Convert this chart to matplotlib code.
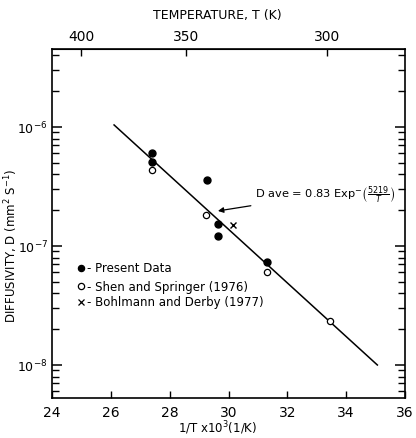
import numpy as np
import matplotlib
matplotlib.use("Agg")
import matplotlib.pyplot as plt
from matplotlib.ticker import NullFormatter, FixedLocator

# x values are 1/T x 10^4 (axis labelled 24..36), y is diffusivity in mm^2/s
present_x = [27.39, 27.39, 29.26, 29.65, 29.65, 31.30]
present_y = [6.1e-7, 5.05e-7, 3.6e-7, 1.53e-7, 1.22e-7, 7.3e-8]

shen_x = [27.39, 29.23, 31.30, 33.45]
shen_y = [4.35e-7, 1.83e-7, 6.1e-8, 2.34e-8]

bohl_x = [30.16]
bohl_y = [1.5e-7]

fit_x = [26.11, 35.06]
fit_y = [1.04e-6, 1.0e-8]

xticks = [24, 26, 28, 30, 32, 34, 36]
yticks = [1e-8, 1e-7, 1e-6]
temp_ticks = [400, 350, 300]

plt.rcParams["xtick.direction"] = "in"
plt.rcParams["ytick.direction"] = "in"
plt.rcParams["ytick.minor.visible"] = True

fig = plt.figure(figsize=(4.16, 4.39), dpi=100)
ax = fig.add_axes([0.125, 0.0911, 0.8486, 0.795])

ax.plot(fit_x, fit_y, color="black", lw=1.1, zorder=2)
ax.plot(present_x, present_y, "o", color="black", ms=5, zorder=3)
ax.plot(shen_x, shen_y, "o", mfc="white", mec="black", mew=0.9, ms=4.5, zorder=3)
ax.plot(bohl_x, bohl_y, "x", color="black", ms=4, mew=1.0, zorder=3)

ax.set_yscale("log")
ax.set_xlim(24, 36)
ax.set_ylim(5.28e-9, 4.52e-6)

ax.xaxis.set_major_locator(FixedLocator(xticks))
ax.set_xticklabels([str(t) for t in xticks], fontsize=10)
minors = [k * 10.0 ** e for e in range(-9, -5) for k in range(2, 10)]
ax.yaxis.set_major_locator(FixedLocator(yticks))
ax.set_yticklabels([r"10$^{%d}$" % int(np.log10(v)) for v in yticks])
ax.yaxis.set_minor_locator(FixedLocator(minors))
ax.yaxis.set_minor_formatter(NullFormatter())
ax.tick_params(axis="y", which="major", direction="in", length=7, width=1.1,
               left=True, right=True, labelsize=9, pad=3)
ax.tick_params(axis="y", which="minor", direction="in", length=5, width=1.0,
               left=True, right=True, color="black")
ax.tick_params(axis="x", which="major", direction="in", length=5, width=1.0,
               top=False, labelsize=10, pad=5)
ax.tick_params(axis="x", which="minor", bottom=False, top=False)
for s in ax.spines.values():
    s.set_linewidth(1.2)

top = ax.secondary_xaxis("top", functions=(lambda u: 1e4 / np.asarray(u, float),
                                            lambda t: 1e4 / np.asarray(t, float)))
top.set_xticks(temp_ticks)
top.set_xticklabels([str(t) for t in temp_ticks], fontsize=10)
top.tick_params(direction="in", length=5, width=1.0, pad=4)
top.xaxis.set_minor_locator(FixedLocator([]))

fig.text(0.522, 0.965, "TEMPERATURE, T (K)", ha="center", va="center", fontsize=9)
fig.text(0.522, 2 / 439, r"1/T x10$^{3}$(1/K)", ha="center", va="bottom", fontsize=8.5)
fig.text(0.028, 0.44, r"DIFFUSIVITY, D (mm$^{2}$ S$^{-1}$)", rotation=90,
         ha="center", va="center", fontsize=8.5)

# legend drawn as text rows
leg = [("o", "black", "black", "- Present Data", 269),
       ("o", "white", "black", "- Shen and Springer (1976)", 287),
       ("x", "black", "black", "- Bohlmann and Derby (1977)", 303)]
for m, fc, ec, label, ypix in leg:
    yf = 1 - ypix / 439
    fig.add_artist(plt.Line2D([81 / 416], [yf], marker=m, mfc=fc, mec=ec,
                              color="black", ms=4.5 if m == "o" else 4,
                              mew=0.9, ls="none", transform=fig.transFigure))
    fig.text(87 / 416, yf, label, ha="left", va="center", fontsize=8.5)

ax.annotate(r"D ave = 0.83 Exp$^{-}$$\left(\frac{5219}{T}\right)$",
            xy=(29.64, 1.97e-7), xytext=(255 / 416, 1 - 195 / 439),
            textcoords="figure fraction", ha="left", va="center", fontsize=8.2,
            arrowprops=dict(arrowstyle="-|>", color="black", lw=0.9,
                            shrinkA=1, shrinkB=0, mutation_scale=8))

if len(ax.yaxis.get_minorticklocs()) == 0:
    raise RuntimeError("no minor ticks")

fig.savefig("out.png", dpi=100)
